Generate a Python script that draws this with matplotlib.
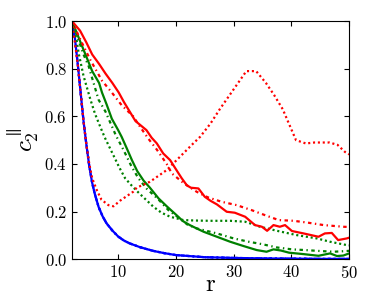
import numpy as np
import matplotlib
matplotlib.use('Agg')
import matplotlib.pyplot as plt

plt.rcParams.update({'font.family': 'serif', 'font.serif': ['cmr10'],
                     'mathtext.fontset': 'cm', 'axes.formatter.use_mathtext': True,
                     'font.size': 12,
                     'lines.scale_dashes': False,
                     'xtick.direction': 'in', 'ytick.direction': 'in',
                     'xtick.top': True, 'ytick.right': True,
                     'xtick.major.size': 3.5, 'ytick.major.size': 3.5})

# blue (solid, dash-dot and dotted lie on top of each other)
r_blue = [2, 2.5, 3, 3.5, 4, 4.5, 5, 5.5, 6, 6.6, 7.3, 8, 9, 10, 11, 12, 13.8, 16, 18, 20,
          25, 30, 35, 40, 45, 50]
c_blue = [1.0, 0.93, 0.82, 0.70, 0.58, 0.48, 0.39, 0.32, 0.27, 0.22, 0.18, 0.15, 0.12, 0.095,
          0.078, 0.066, 0.05, 0.035, 0.025, 0.017, 0.008, 0.005, 0.003, 0.002, 0.001, 0.001]

# red
r_red_solid = [2, 3.4, 4.5, 5.5, 6.7, 7.8, 9, 10.1, 11, 12, 13, 14, 14.9, 15.8, 16.7, 17.8, 19,
               20.1, 21, 21.9, 22.6, 23.9, 25, 26, 27.1, 28.8, 30.2, 32, 33.7, 34.9, 35.8, 36.9,
               38, 38.9, 40.1, 42.1, 44.7, 45.8, 47, 48.1, 49.6, 50]
c_red_solid = [1.0, 0.96, 0.91, 0.86, 0.82, 0.78, 0.74, 0.70, 0.66, 0.62, 0.58, 0.56, 0.542,
               0.51, 0.486, 0.444, 0.416, 0.374, 0.34, 0.31, 0.30, 0.297, 0.262, 0.245, 0.23,
               0.199, 0.195, 0.178, 0.143, 0.136, 0.119, 0.143, 0.136, 0.143, 0.118, 0.108,
               0.094, 0.108, 0.11, 0.08, 0.087, 0.09]
r_red_dd = [2, 3.5, 5.2, 7.2, 8.9, 10.6, 12.6, 13.8, 15.2, 16.7, 18.4, 19.3, 20.3, 21.3, 23.6,
            25.5, 27.9, 30.5, 33.1, 35.4, 37.8, 40.4, 42.9, 45.6, 49, 50]
c_red_dd = [1.0, 0.92, 0.836, 0.75, 0.70, 0.647, 0.60, 0.556, 0.507, 0.46, 0.40, 0.36, 0.34,
            0.32, 0.283, 0.26, 0.241, 0.227, 0.206, 0.185, 0.164, 0.161, 0.153, 0.143, 0.136,
            0.135]
r_red_dot = [2, 3, 4, 4.5, 5, 5.5, 6.3, 7.1, 8.3, 9.2, 10.3, 10.9, 12.6, 13.2, 15.5, 18.4, 20.7,
             23, 24.2, 26, 27.6, 29.9, 32.2, 33.9, 35.6, 37, 38.5, 40.8, 42.5, 44, 46.6, 48,
             49.3, 50]
c_red_dot = [1.0, 0.82, 0.58, 0.48, 0.40, 0.34, 0.29, 0.25, 0.227, 0.222, 0.245, 0.255, 0.283,
             0.30, 0.325, 0.374, 0.43, 0.486, 0.514, 0.57, 0.63, 0.71, 0.79, 0.79, 0.74, 0.69,
             0.63, 0.50, 0.486, 0.49, 0.49, 0.48, 0.45, 0.44]

# green
r_green_solid = [2, 2.3, 3.5, 4.5, 5.5, 6.7, 7.2, 8, 8.9, 10, 10.6, 11.5, 12.4, 13.3, 14.4, 15.5,
                 17, 18.5, 20.1, 21.2, 22.4, 23.5, 24.8, 27.1, 29.4, 31.7, 34, 35.7, 36.9, 38.2,
                 39.6, 42.1, 44.7, 46.7, 47.9, 49, 50]
c_green_solid = [1.0, 0.983, 0.91, 0.85, 0.79, 0.74, 0.70, 0.65, 0.59, 0.542, 0.514, 0.465,
                 0.415, 0.37, 0.33, 0.30, 0.255, 0.22, 0.185, 0.16, 0.143, 0.13, 0.115, 0.094,
                 0.073, 0.055, 0.038, 0.031, 0.041, 0.036, 0.027, 0.021, 0.014, 0.024, 0.013,
                 0.015, 0.024]
r_green_dd = [2, 3, 4, 4.9, 5.5, 6.6, 7.8, 8.7, 9.6, 10.9, 12.3, 13.5, 14.9, 17, 18.7, 20.7, 22,
              23.6, 27.1, 30, 32.6, 34.9, 37.5, 40.1, 42.4, 45, 47.3, 49.6, 50]
c_green_dd = [1.0, 0.93, 0.86, 0.81, 0.76, 0.67, 0.62, 0.57, 0.52, 0.46, 0.39, 0.34, 0.297, 0.25,
              0.206, 0.17, 0.145, 0.129, 0.108, 0.087, 0.073, 0.063, 0.049, 0.041, 0.038, 0.034,
              0.031, 0.034, 0.035]
r_green_dot = [2, 2.8, 3.2, 4, 5.2, 6, 7, 7.7, 8.5, 9.3, 10.2, 11.2, 12.3, 13.5, 14.8, 16.1, 17.5,
               19, 21.3, 23.6, 25.9, 29.4, 32, 34.6, 37.5, 40.9, 44.4, 46.7, 49.6, 50]
c_green_dot = [1.0, 0.92, 0.86, 0.77, 0.67, 0.61, 0.55, 0.51, 0.47, 0.43, 0.385, 0.34, 0.31, 0.28,
               0.25, 0.22, 0.195, 0.178, 0.164, 0.162, 0.161, 0.161, 0.157, 0.136, 0.119, 0.101,
               0.087, 0.073, 0.059, 0.058]

dash_dot = (2.5, 2.5, 1.0, 2.5)
dots = (1.5, 2.0)

fig = plt.figure(figsize=(3.71, 3.02), dpi=100)
ax = fig.add_axes([0.194, 0.142, 0.747, 0.788])

ax.plot(r_blue, c_blue, 'b-', lw=1.6)
ax.plot(r_blue, c_blue, 'b-', lw=1.6, dashes=dash_dot)
ax.plot(r_blue, c_blue, 'b-', lw=1.6, dashes=dots)
ax.plot(r_green_solid, c_green_solid, 'g-', lw=1.6)
ax.plot(r_green_dd, c_green_dd, 'g-', lw=1.6, dashes=dash_dot)
ax.plot(r_green_dot, c_green_dot, 'g-', lw=1.6, dashes=dots)
ax.plot(r_red_solid, c_red_solid, 'r-', lw=1.6)
ax.plot(r_red_dd, c_red_dd, 'r-', lw=1.6, dashes=dash_dot)
ax.plot(r_red_dot, c_red_dot, 'r-', lw=1.6, dashes=dots)

ax.set_xlim(2, 50)
ax.set_ylim(0, 1.0)
ax.set_xticks([10, 20, 30, 40, 50])
ax.set_yticks([0.0, 0.2, 0.4, 0.6, 0.8, 1.0])
ax.set_xlabel('r', fontsize=18, labelpad=-5)
ax.set_ylabel(r'$c_2^{\parallel}$', fontsize=18, labelpad=2)

fig.savefig('out.png', dpi=100)
